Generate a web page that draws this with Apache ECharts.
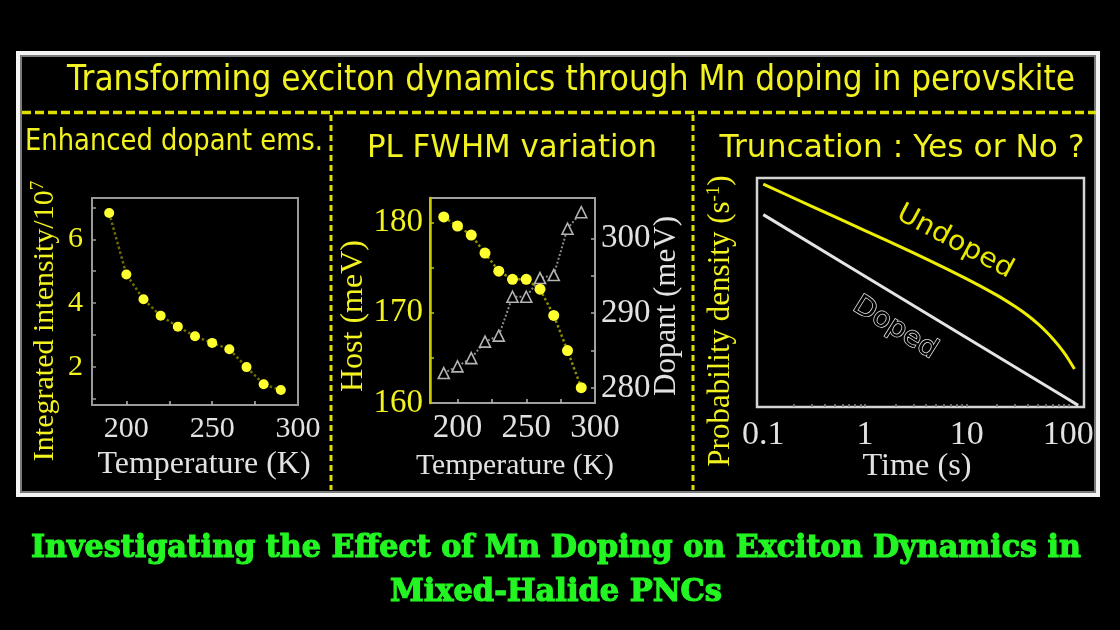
<!DOCTYPE html>
<html><head><meta charset="utf-8">
<script src="https://cdn.jsdelivr.net/npm/echarts@6/dist/echarts.min.js"></script>
<style>html,body{margin:0;padding:0;background:#000}#c{width:1120px;height:630px}</style>
</head><body><div id="c"></div>
<script>
// ---------- data ----------
const temps = [190, 200, 210, 220, 230, 240, 250, 260, 270, 280, 290];
const dopantEmission = [6.83, 4.90, 4.12, 3.60, 3.26, 2.96, 2.75, 2.55, 1.99, 1.45, 1.27];
const hostFwhm = [180.6, 179.6, 178.6, 176.6, 174.6, 173.7, 173.7, 172.6, 169.7, 165.8, 161.7];
const dopantFwhm = [282.0, 282.9, 284.0, 286.2, 287.0, 292.2, 292.2, 294.7, 295.1, 301.3, 303.5];
const undopedTime = [0.1, 0.3, 1, 3, 10, 20, 30, 40, 50, 60, 70, 80, 90, 100, 115];
const undopedDensity = [0.829, 0.426, 0.2046, 0.1047, 0.04778, 0.02897, 0.02066, 0.0158, 0.01234, 0.00984, 0.00792, 0.00641, 0.00522, 0.00425, 0.00314];
const dopedTime = [0.1, 1, 10, 100, 125];
const dopedDensity = [0.3315, 0.0517, 0.00806, 0.00126, 0.00105];
const tempTicks = [200, 250, 300];
const tempMinorTicks = [200, 225, 250, 275];
const intensityTicks = [2, 4, 6];
const intensityMinorTicks = [1, 2, 3, 4, 5, 6, 7];
const hostTicks = [160, 170, 180];
const hostMinorTicks = [165, 170, 175, 180];
const dopantTicks = [280, 290, 300];
const dopantMinorTicks = [280, 285, 290, 295, 300];
const timeTicks = [0.1, 1, 10, 100];
const timeMinorTicks = [0.2, 0.3, 0.4, 0.5, 0.6, 0.7, 0.8, 0.9, 1, 2, 3, 4, 5, 6, 7, 8, 9, 10, 20, 30, 40, 50, 60, 70, 80, 90, 100];

const zip = (a, b) => a.map((v, i) => [v, b[i]]);

// ---------- text helpers ----------
const mctx = document.createElement('canvas').getContext('2d');
function txt(text, x, y, o) {
  const size = o.size, fam = o.family || 'Liberation Serif', w = o.weight || 'normal';
  let sx = 1;
  if (o.width) { mctx.font = w + ' ' + size + 'px ' + fam; sx = o.width / mctx.measureText(text).width; }
  return {
    type: 'text', x: x, y: y, rotation: o.rot || 0, scaleX: sx, z: 10,
    style: {
      text: text, fill: o.fill, fontSize: size, fontFamily: fam, fontWeight: w,
      align: 'center', verticalAlign: 'middle',
      stroke: o.stroke, lineWidth: o.lineWidth || 0, rich: o.rich
    }
  };
}
const YEL = '#f2f220', WHT = '#e2e2e2', COMIC = 'DejaVu Sans', GRN = '#22f522';

const graphics = [
  { type: 'rect', shape: { x: 18, y: 53, width: 1080, height: 442 }, style: { fill: 'none', stroke: '#f4f4f4', lineWidth: 4 } },
  { type: 'rect', shape: { x: 21, y: 56, width: 1074, height: 436 }, style: { fill: 'none', stroke: '#7a7a7a', lineWidth: 2 } },
  { type: 'line', shape: { x1: 22, y1: 112.5, x2: 1096, y2: 112.5 }, style: { stroke: '#dede00', lineWidth: 3.5, lineDash: [9, 4] } },
  { type: 'line', shape: { x1: 331, y1: 115, x2: 331, y2: 490 }, style: { stroke: '#dede00', lineWidth: 3, lineDash: [6, 4] } },
  { type: 'line', shape: { x1: 693, y1: 115, x2: 693, y2: 490 }, style: { stroke: '#dede00', lineWidth: 3, lineDash: [6, 4] } },
  txt('Transforming exciton dynamics through Mn doping in perovskite', 571, 81, { size: 36, family: COMIC, fill: YEL, width: 1008 }),
  txt('Enhanced dopant ems.', 174, 142, { size: 30, family: COMIC, fill: YEL, width: 298 }),
  txt('PL FWHM variation', 512, 149, { size: 32, family: COMIC, fill: YEL, width: 290 }),
  txt('Truncation : Yes or No ?', 902, 149, { size: 32, family: COMIC, fill: YEL, width: 365 }),
  txt('Integrated intensity/10{s|7}', 45.5, 321, { size: 30, fill: YEL, rot: Math.PI / 2, rich: { s: { fontSize: 19, fontFamily: 'Liberation Serif', fill: YEL, verticalAlign: 'top', padding: [0, 0, 14, 0] } } }),
  txt('Temperature (K)', 204, 465, { size: 31, fill: WHT, width: 213 }),
  txt('Host (meV)', 354, 316, { size: 32, fill: YEL, rot: Math.PI / 2 }),
  txt('Dopant (meV)', 667, 306, { size: 31, fill: WHT, rot: Math.PI / 2 }),
  txt('Temperature (K)', 515, 466, { size: 29, fill: WHT, width: 198 }),
  txt('Probability density (s{s|-1})', 721, 321, { size: 31, fill: YEL, rot: Math.PI / 2, rich: { s: { fontSize: 19, fontFamily: 'Liberation Serif', fill: YEL, verticalAlign: 'top', padding: [0, 0, 14, 0] } } }),
  txt('Time (s)', 917, 467, { size: 32, fill: WHT, width: 109 }),
  txt('Undoped', 955, 242, { size: 27, family: COMIC, fill: '#e8e800', rot: -0.49, width: 128 }),
  txt('Doped', 895, 328, { size: 27, family: COMIC, fill: '#000', stroke: '#e6e6e6', lineWidth: 1.4, rot: -0.56, width: 94 }),
  txt('Investigating the Effect of Mn Doping on Exciton Dynamics in', 556, 549, { size: 31, family: 'DejaVu Serif', weight: 'bold', fill: GRN, stroke: GRN, lineWidth: 1.2, width: 1050 }),
  txt('Mixed-Halide PNCs', 556, 593, { size: 31, family: 'DejaVu Serif', weight: 'bold', fill: GRN, stroke: GRN, lineWidth: 1.2, width: 332 })
];

function tickCfg(vals, color) {
  return { show: true, inside: true, length: 4, customValues: vals, lineStyle: { color: color, width: 1.5 } };
}
function labelCfg(vals, color, size, margin) {
  return { show: true, customValues: vals, color: color, fontFamily: 'Liberation Serif', fontSize: size, margin: margin, showMinLabel: true, showMaxLabel: true };
}

const option = {
  backgroundColor: '#000',
  animation: false,
  grid: [
    { left: 92, top: 198, width: 206, height: 207, show: true, borderColor: '#9a9a9a', borderWidth: 2, backgroundColor: 'transparent' },
    { left: 430, top: 198, width: 165, height: 205, show: true, borderColor: '#a0a0a0', borderWidth: 2, backgroundColor: 'transparent' },
    { left: 757, top: 178, width: 327, height: 229, show: true, borderColor: '#d4d4d4', borderWidth: 2.5, backgroundColor: 'transparent' }
  ],
  xAxis: [
    { gridIndex: 0, type: 'value', min: 180, max: 300, axisLine: { show: false }, splitLine: { show: false },
      axisTick: tickCfg(tempMinorTicks, '#bbb'), axisLabel: labelCfg(tempTicks, WHT, 30, 9) },
    { gridIndex: 1, type: 'value', min: 180, max: 300, axisLine: { show: false }, splitLine: { show: false },
      axisTick: tickCfg(tempMinorTicks, '#bbb'), axisLabel: labelCfg(tempTicks, WHT, 33, 9) },
    { gridIndex: 2, type: 'log', logBase: 10, min: 0.0867, max: 142.7, axisLine: { show: false }, splitLine: { show: false },
      axisTick: { show: true, inside: true, length: 3, customValues: timeMinorTicks, lineStyle: { color: '#888', width: 1.5 } },
      axisLabel: labelCfg(timeTicks, WHT, 34, 11) }
  ],
  yAxis: [
    { gridIndex: 0, type: 'value', min: 0.8, max: 7.3, axisLine: { show: false }, splitLine: { show: false },
      axisTick: tickCfg(intensityMinorTicks, '#999'), axisLabel: labelCfg(intensityTicks, YEL, 30, 9) },
    { gridIndex: 1, type: 'value', min: 160, max: 182.7, axisLine: { show: true, lineStyle: { color: '#c8c800', width: 2.5 } }, splitLine: { show: false },
      axisTick: tickCfg(hostMinorTicks, '#c8c800'), axisLabel: labelCfg(hostTicks, YEL, 33, 7) },
    { gridIndex: 1, type: 'value', position: 'right', min: 278, max: 305.4, axisLine: { show: false }, splitLine: { show: false },
      axisTick: tickCfg(dopantMinorTicks, '#aaa'), axisLabel: labelCfg(dopantTicks, WHT, 33, 6) },
    { gridIndex: 2, type: 'log', logBase: 10, min: 0.001, max: 1, axisLine: { show: false }, splitLine: { show: false },
      axisTick: { show: false }, axisLabel: { show: false } }
  ],
  series: [
    { name: 'Dopant emission', type: 'line', xAxisIndex: 0, yAxisIndex: 0, data: zip(temps, dopantEmission),
      symbol: 'circle', symbolSize: 10, itemStyle: { color: '#ffff30' }, lineStyle: { color: '#6e6e00', width: 2.5, type: 'dotted' } },
    { name: 'Dopant FWHM', type: 'line', xAxisIndex: 1, yAxisIndex: 2, data: zip(temps, dopantFwhm),
      symbol: 'triangle', symbolSize: 11, itemStyle: { color: '#000', borderColor: '#b4b4b4', borderWidth: 1.6 },
      lineStyle: { color: '#8a8a8a', width: 2, type: 'dotted' } },
    { name: 'Host FWHM', type: 'line', xAxisIndex: 1, yAxisIndex: 1, data: zip(temps, hostFwhm),
      symbol: 'circle', symbolSize: 11, itemStyle: { color: '#ffff30' }, lineStyle: { color: '#8c8c00', width: 2.5, type: 'dotted' } },
    { name: 'Undoped', type: 'line', xAxisIndex: 2, yAxisIndex: 3, data: zip(undopedTime, undopedDensity),
      smooth: 0.2, showSymbol: false, lineStyle: { color: '#eeee00', width: 3 } },
    { name: 'Doped', type: 'line', xAxisIndex: 2, yAxisIndex: 3, data: zip(dopedTime, dopedDensity),
      showSymbol: false, lineStyle: { color: '#e4e4e4', width: 3 } }
  ],
  graphic: graphics
};
const chart = echarts.init(document.getElementById('c'), null, { renderer: 'canvas' });
chart.setOption(option);
</script></body></html>
